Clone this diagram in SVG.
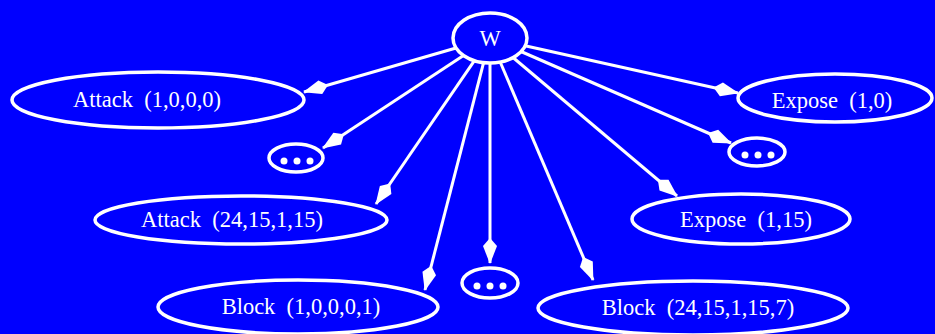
<svg xmlns="http://www.w3.org/2000/svg" width="935" height="334" viewBox="0 0 935 334">
<style>
.n ellipse{fill:none;stroke:#fff;stroke-width:3.5}
.n text{fill:#fff;font-family:"Liberation Serif","Times New Roman",serif;font-size:22.5px;text-anchor:middle;white-space:pre}
.d circle{fill:#fff}
.e line{stroke:#fff;stroke-width:3;marker-end:url(#ah)}
</style>
<defs>
<marker id="ah" markerUnits="userSpaceOnUse" viewBox="-28 -9 30 18" refX="0" refY="0" markerWidth="30" markerHeight="18" orient="auto" overflow="visible">
<path d="M1,0 L-17,-7 L-25,0 L-17,7 Z" fill="#fff"/>
</marker>
</defs>
<rect width="935" height="334" fill="#0000ff"/>
<g id="edges" class="e">
<line x1="456" y1="48" x2="304" y2="92"/>
<line x1="463.5" y1="55.5" x2="323" y2="148"/>
<line x1="474.4" y1="60.7" x2="376" y2="204"/>
<line x1="483.6" y1="62.6" x2="425" y2="290"/>
<line x1="490" y1="63" x2="490" y2="263"/>
<line x1="500.2" y1="62" x2="593" y2="280"/>
<line x1="513" y1="57.5" x2="677" y2="196"/>
<line x1="521" y1="51.5" x2="731" y2="143"/>
<line x1="525" y1="45.8" x2="738" y2="93"/>
</g>
<g id="W" class="n"><ellipse cx="490" cy="38" rx="37" ry="25"/><text x="490" y="46">W</text></g>
<g id="attack1" class="n"><ellipse cx="158" cy="100" rx="146" ry="28"/><text x="147" y="107">Attack  (1,0,0,0)</text></g>
<g id="dots1" class="n d"><ellipse cx="296" cy="158" rx="27" ry="14"/><circle cx="284" cy="161" r="3.5"/><circle cx="297" cy="161" r="3.5"/><circle cx="310" cy="161" r="3.5"/></g>
<g id="attack2" class="n"><ellipse cx="241" cy="220" rx="146" ry="24"/><text x="232" y="227">Attack  (24,15,1,15)</text></g>
<g id="block1" class="n"><ellipse cx="298" cy="307" rx="140" ry="27"/><text x="301" y="314">Block  (1,0,0,0,1)</text></g>
<g id="dots2" class="n d"><ellipse cx="490" cy="283" rx="28" ry="15"/><circle cx="477" cy="286" r="3.5"/><circle cx="490" cy="286" r="3.5"/><circle cx="503" cy="286" r="3.5"/></g>
<g id="block2" class="n"><ellipse cx="693" cy="308" rx="155" ry="27"/><text x="698" y="315">Block  (24,15,1,15,7)</text></g>
<g id="expose2" class="n"><ellipse cx="741" cy="219" rx="109" ry="25"/><text x="746" y="227">Expose  (1,15)</text></g>
<g id="dots3" class="n d"><ellipse cx="757" cy="152" rx="28" ry="14"/><circle cx="745" cy="155" r="3.5"/><circle cx="758" cy="155" r="3.5"/><circle cx="771" cy="155" r="3.5"/></g>
<g id="expose1" class="n"><ellipse cx="835" cy="98" rx="97" ry="24"/><text x="832" y="108">Expose  (1,0)</text></g>
</svg>
